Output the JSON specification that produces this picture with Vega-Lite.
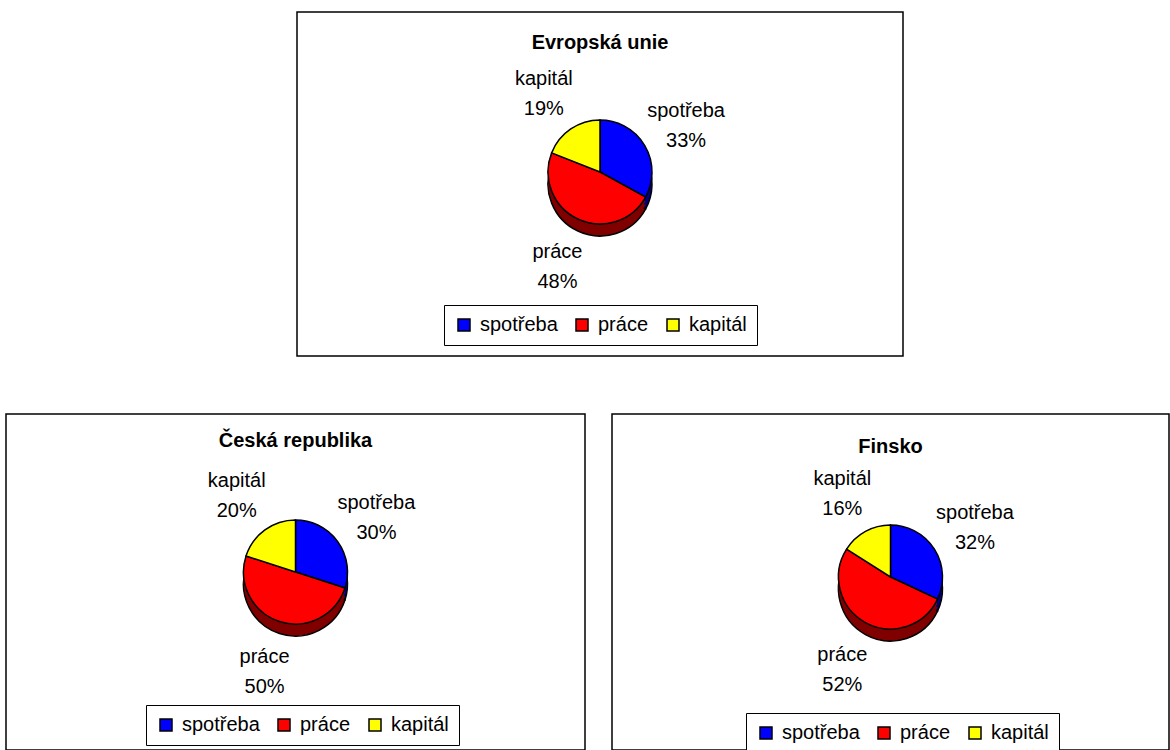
{
  "$schema": "https://vega.github.io/schema/vega-lite/v6.json",
  "padding": {"left": 5, "top": 11, "right": 4, "bottom": 3},
  "background": "white",
  "config": {
    "font": "Liberation Sans",
    "view": {"stroke": null},
    "title": {"font": "Liberation Sans", "fontSize": 20, "fontWeight": "bold", "color": "black", "anchor": "middle", "offset": -40},
    "legend": {
      "orient": "none", "direction": "horizontal", "columns": 3,
      "labelFont": "Liberation Sans", "labelFontSize": 20, "labelColor": "black", "labelOffset": 6,
      "symbolType": "square", "symbolSize": 144, "symbolStrokeColor": "black", "symbolStrokeWidth": 1.5, "symbolOpacity": 1,
      "strokeColor": "black", "fillColor": "white", "padding": 10, "columnPadding": 14
    },
    "text": {"font": "Liberation Sans", "fontSize": 20, "color": "black"}
  },
  "datasets": {
    "shares": [
      {"region": "EU", "category": "spotřeba", "share": 33, "n": 1},
      {"region": "EU", "category": "práce", "share": 48, "n": 2},
      {"region": "EU", "category": "kapitál", "share": 19, "n": 3},
      {"region": "CZ", "category": "spotřeba", "share": 30, "n": 1},
      {"region": "CZ", "category": "práce", "share": 50, "n": 2},
      {"region": "CZ", "category": "kapitál", "share": 20, "n": 3},
      {"region": "FI", "category": "spotřeba", "share": 32, "n": 1},
      {"region": "FI", "category": "práce", "share": 52, "n": 2},
      {"region": "FI", "category": "kapitál", "share": 16, "n": 3}
    ],
    "frame": [{"frame": 1}]
  },
  "resolve": {"scale": {"color": "independent", "fill": "independent", "theta": "independent"}, "legend": {"color": "independent"}},
  "spacing": 56,
  "vconcat": [
    {
      "spacing": 0,
      "resolve": {"scale": {"color": "independent", "fill": "independent", "theta": "independent"}, "legend": {"color": "independent"}},
      "hconcat": [
        {
          "width": 290, "height": 10,
          "data": {"name": "frame"},
          "mark": {"type": "point", "opacity": 0}
        },
        {
          "width": 606, "height": 344,
          "title": {"text": "Evropská unie", "offset": -42},
          "layer": [
            {"data": {"name": "frame"}, "mark": {"type": "rect", "fill": "white", "stroke": "black", "strokeWidth": 1.5}, "encoding": {}},
            {
              "data": {"name": "shares"},
              "transform": [
                {"filter": "datum.region === 'EU'"},
                {"calculate": "datum.category + '\\n' + datum.share + '%'", "as": "label"}
              ],
              "encoding": {
                "theta": {"field": "share", "type": "quantitative", "stack": true},
                "order": {"field": "n", "type": "quantitative"}
              },
              "layer": [
                {"mark": {"type": "arc", "outerRadius": 52, "yOffset": 0, "stroke": "black", "strokeWidth": 1.5},
                 "encoding": {"fill": {"field": "n", "type": "nominal", "legend": null, "scale": {"domain": [1, 2, 3], "range": ["#000080", "#800000", "#808000"]}}}},
                {"mark": {"type": "arc", "outerRadius": 52, "yOffset": -4},
                 "encoding": {"fill": {"field": "n", "type": "nominal", "legend": null}}},
                {"mark": {"type": "arc", "outerRadius": 52, "yOffset": -8},
                 "encoding": {"fill": {"field": "n", "type": "nominal", "legend": null}}},
                {"mark": {"type": "arc", "outerRadius": 52, "yOffset": -12, "stroke": "black", "strokeWidth": 1.5},
                 "encoding": {"color": {"field": "category", "type": "nominal",
                   "scale": {"domain": ["spotřeba", "práce", "kapitál"], "range": ["#0000FF", "#FF0000", "#FFFF00"]},
                   "legend": {"title": null, "legendX": 147, "legendY": 293}}}},
                {"mark": {"type": "text", "radius": 100, "yOffset": -12, "dy": -10, "lineBreak": "\n", "lineHeight": 30},
                 "encoding": {"text": {"field": "label"}}}
              ]
            }
          ]
        }
      ]
    },
    {
      "spacing": 25,
      "resolve": {"scale": {"color": "independent", "fill": "independent", "theta": "independent"}, "legend": {"color": "independent"}},
      "hconcat": [
        {
          "width": 579, "height": 336,
          "title": {"text": "Česká republika", "offset": -38},
          "layer": [
            {"data": {"name": "frame"}, "mark": {"type": "rect", "fill": "white", "stroke": "black", "strokeWidth": 1.5}, "encoding": {}},
            {
              "data": {"name": "shares"},
              "transform": [
                {"filter": "datum.region === 'CZ'"},
                {"calculate": "datum.category + '\\n' + datum.share + '%'", "as": "label"}
              ],
              "encoding": {
                "theta": {"field": "share", "type": "quantitative", "stack": true},
                "order": {"field": "n", "type": "quantitative"}
              },
              "layer": [
                {"mark": {"type": "arc", "outerRadius": 52, "yOffset": 2, "stroke": "black", "strokeWidth": 1.5},
                 "encoding": {"fill": {"field": "n", "type": "nominal", "legend": null, "scale": {"domain": [1, 2, 3], "range": ["#000080", "#800000", "#808000"]}}}},
                {"mark": {"type": "arc", "outerRadius": 52, "yOffset": -2},
                 "encoding": {"fill": {"field": "n", "type": "nominal", "legend": null}}},
                {"mark": {"type": "arc", "outerRadius": 52, "yOffset": -6},
                 "encoding": {"fill": {"field": "n", "type": "nominal", "legend": null}}},
                {"mark": {"type": "arc", "outerRadius": 52, "yOffset": -10, "stroke": "black", "strokeWidth": 1.5},
                 "encoding": {"color": {"field": "category", "type": "nominal",
                   "scale": {"domain": ["spotřeba", "práce", "kapitál"], "range": ["#0000FF", "#FF0000", "#FFFF00"]},
                   "legend": {"title": null, "legendX": 140, "legendY": 291}}}},
                {"mark": {"type": "text", "radius": 100, "yOffset": -10, "dy": -10, "lineBreak": "\n", "lineHeight": 30},
                 "encoding": {"text": {"field": "label"}}}
              ]
            }
          ]
        },
        {
          "width": 557, "height": 336,
          "title": {"text": "Finsko", "offset": -44},
          "layer": [
            {"data": {"name": "frame"}, "mark": {"type": "rect", "fill": "white", "stroke": "black", "strokeWidth": 1.5}, "encoding": {}},
            {
              "data": {"name": "shares"},
              "transform": [
                {"filter": "datum.region === 'FI'"},
                {"calculate": "datum.category + '\\n' + datum.share + '%'", "as": "label"}
              ],
              "encoding": {
                "theta": {"field": "share", "type": "quantitative", "stack": true},
                "order": {"field": "n", "type": "quantitative"}
              },
              "layer": [
                {"mark": {"type": "arc", "outerRadius": 52, "yOffset": 7, "stroke": "black", "strokeWidth": 1.5},
                 "encoding": {"fill": {"field": "n", "type": "nominal", "legend": null, "scale": {"domain": [1, 2, 3], "range": ["#000080", "#800000", "#808000"]}}}},
                {"mark": {"type": "arc", "outerRadius": 52, "yOffset": 3},
                 "encoding": {"fill": {"field": "n", "type": "nominal", "legend": null}}},
                {"mark": {"type": "arc", "outerRadius": 52, "yOffset": -1},
                 "encoding": {"fill": {"field": "n", "type": "nominal", "legend": null}}},
                {"mark": {"type": "arc", "outerRadius": 52, "yOffset": -5, "stroke": "black", "strokeWidth": 1.5},
                 "encoding": {"color": {"field": "category", "type": "nominal",
                   "scale": {"domain": ["spotřeba", "práce", "kapitál"], "range": ["#0000FF", "#FF0000", "#FFFF00"]},
                   "legend": {"title": null, "legendX": 134, "legendY": 299}}}},
                {"mark": {"type": "text", "radius": 100, "yOffset": -5, "dy": -10, "lineBreak": "\n", "lineHeight": 30},
                 "encoding": {"text": {"field": "label"}}}
              ]
            }
          ]
        }
      ]
    }
  ]
}
